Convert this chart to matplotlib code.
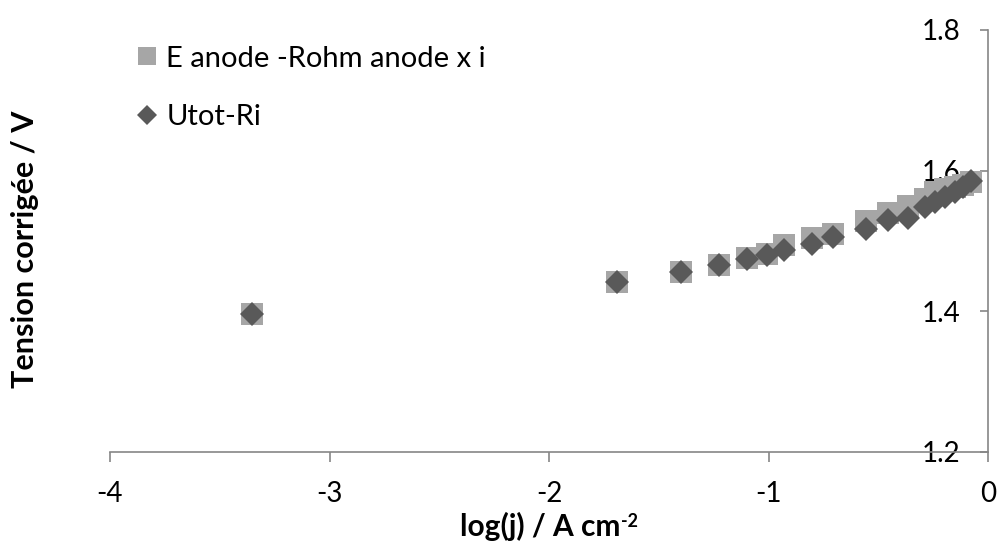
import numpy as np
import matplotlib.pyplot as plt

# log(j) values shared by both series
log_j = [-3.353, -1.690, -1.399, -1.226, -1.098, -1.007, -0.929, -0.802, -0.706,
         -0.556, -0.456, -0.364, -0.287, -0.241, -0.196, -0.150, -0.114, -0.077]

# anode potential corrected for ohmic drop
e_anode = [1.396, 1.441, 1.456, 1.466, 1.476, 1.481, 1.494, 1.504, 1.510,
           1.529, 1.540, 1.550, 1.560, 1.569, 1.574, 1.577, 1.580, 1.584]

# total cell voltage minus R*i
utot_ri = [1.396, 1.441, 1.456, 1.466, 1.474, 1.480, 1.487, 1.496, 1.506,
           1.517, 1.530, 1.533, 1.549, 1.556, 1.563, 1.570, 1.577, 1.586]

x_ticks = [-4, -3, -2, -1, 0]
y_ticks = [1.2, 1.4, 1.6, 1.8]

plt.rcParams['font.family'] = ['Lato', 'DejaVu Sans']
axis_grey = '#868686'

fig = plt.figure(figsize=(9.97, 5.45), dpi=100)
ax = fig.add_axes([110 / 997, 1 - 452 / 545, 878 / 997, 422 / 545])

ax.plot(log_j, e_anode, linestyle='none', marker='s', markersize=15.8,
        color='#a6a6a6', markeredgewidth=0, label='E anode -Rohm anode x i',
        clip_on=False, zorder=3)
ax.plot(log_j, utot_ri, linestyle='none', marker='D', markersize=12.2,
        color='#595959', markeredgewidth=0, label='Utot-Ri',
        clip_on=False, zorder=4)

ax.set_xlim(-4, 0)
ax.set_ylim(1.2, 1.8)
ax.set_xticks(x_ticks)
ax.set_xticklabels([str(v) for v in x_ticks])
ax.set_yticks(y_ticks)
ax.set_yticklabels([f'{v:.1f}' for v in y_ticks])

# y axis sits at log(j) = 0
ax.spines['left'].set_position(('data', 0))
ax.spines['right'].set_visible(False)
ax.spines['top'].set_visible(False)
for s in ('left', 'bottom'):
    ax.spines[s].set_color(axis_grey)
    ax.spines[s].set_linewidth(1.2)

ax.tick_params(axis='y', direction='out', length=6, width=1.2, pad=14,
               color=axis_grey, labelsize=20)
ax.tick_params(axis='x', direction='out', length=7, width=1.2, pad=14,
               color=axis_grey, labelsize=20)

leg = ax.legend(loc='upper left', bbox_to_anchor=(-0.004, 1.025), frameon=False,
                fontsize=21, handlelength=1.0, handletextpad=0.15,
                labelspacing=1.1, markerscale=0.8)

fig.text(25 / 997, 1 - 249 / 545, 'Tension corrigée / V', rotation=90,
         ha='center', va='center', fontsize=22, fontweight='bold')

# x title with a small "-2" exponent
xt = fig.text(460 / 997, 1 - 536 / 545, 'log(j) / A cm',
              ha='left', va='baseline', fontsize=21.5, fontweight='bold')
fig.text(0, 0, '-2', fontsize=13, fontweight='bold', ha='left', va='top')
fig.canvas.draw()
bb = xt.get_window_extent().transformed(fig.transFigure.inverted())
fig.texts[-1].set_position((bb.x1 + 0.001, bb.y1 - 0.002))

fig.savefig('out.png', dpi=100)
